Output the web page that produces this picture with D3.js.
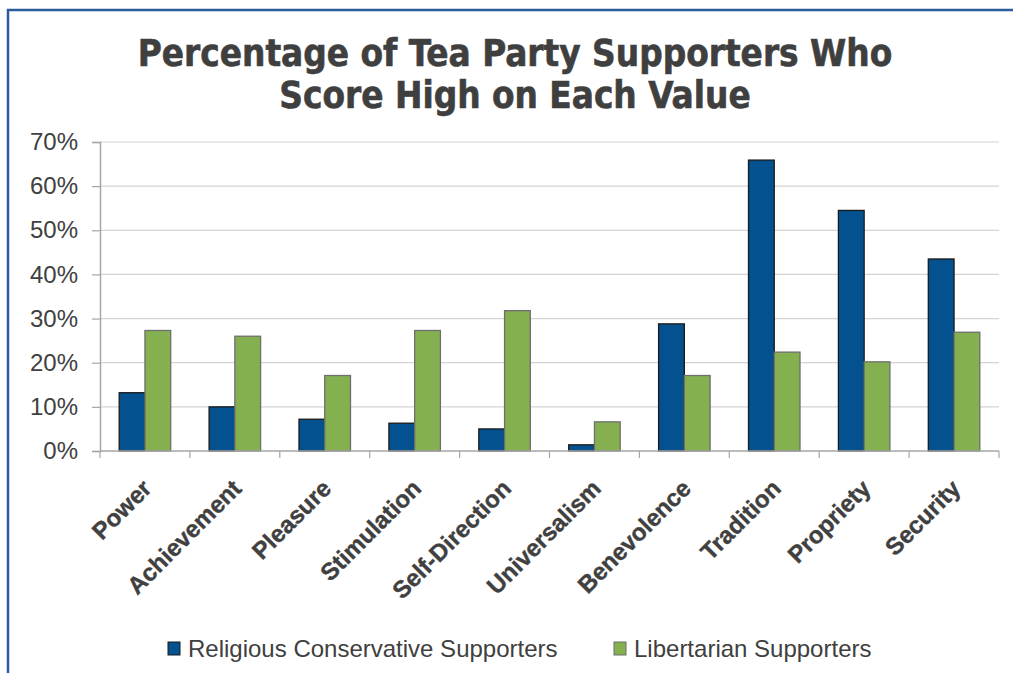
<!DOCTYPE html>
<html>
<head>
<meta charset="utf-8">
<script src="https://cdn.jsdelivr.net/npm/d3@7"></script>
<style>
  body { margin: 0; background: #fff; }
  svg { display: block; }
</style>
</head>
<body>
<svg id="chart" width="1013" height="673"></svg>
<script>
var categories = ["Power", "Achievement", "Pleasure", "Stimulation", "Self-Direction",
                  "Universalism", "Benevolence", "Tradition", "Propriety", "Security"];
var seriesNames = ["Religious Conservative Supporters", "Libertarian Supporters"];
var religious = [13.2, 10.0, 7.2, 6.3, 5.0, 1.4, 28.8, 65.9, 54.5, 43.5];
var libertarian = [27.3, 26.0, 17.1, 27.3, 31.8, 6.6, 17.1, 22.4, 20.2, 26.9];
var yTicks = [0, 10, 20, 30, 40, 50, 60, 70];
var titleLines = ["Percentage of Tea Party Supporters Who", "Score High on Each Value"];

var colors = ["#03528f", "#84b04f"];
var strokes = ["#1a1a1a", "#6e6e6e"];

var svg = d3.select("#chart");

// frame
svg.append("rect")
	.attr("x", 8).attr("y", 10)
	.attr("width", 1030).attr("height", 700)
	.attr("fill", "none")
	.attr("stroke", "#2b5c9e")
	.attr("stroke-width", 2.5);

// title
svg.append("g").selectAll("text")
	.data(titleLines)
	.enter()
	.append("text")
	.attr("x", 515)
	.attr("y", function(d, i){ return 66 + i * 42; })
	.attr("text-anchor", "middle")
	.style("font-family", "'DejaVu Sans Condensed', 'DejaVu Sans', sans-serif")
	.style("font-weight", "bold")
	.style("font-size", "36.5px")
	.style("fill", "#3f3f3f")
	.style("stroke", "#3f3f3f")
	.style("stroke-width", 0.6)
	.text(function(d){ return d; });

var x0 = d3.scaleBand().domain(categories).range([100, 999]).paddingInner(0).paddingOuter(0);
var x1 = d3.scaleBand().domain([0, 1]).range([19.2, x0.bandwidth() - 19.2]);
var y = d3.scaleLinear().domain([0, 70]).range([451, 142]);

// grid
svg.append("g").selectAll("line")
	.data(yTicks.slice(1))
	.enter()
	.append("line")
	.attr("x1", 100).attr("x2", 999)
	.attr("y1", function(d){ return y(d); })
	.attr("y2", function(d){ return y(d); })
	.attr("stroke", "#d4d4d4")
	.attr("stroke-width", 1.2);

// y axis
var yAxis = svg.append("g")
	.attr("transform", "translate(100,0)")
	.call(d3.axisLeft(y).tickValues(yTicks).tickSize(8).tickPadding(14)
		.tickFormat(function(d){ return d + "%"; }));
yAxis.select(".domain").attr("stroke", "#a6a6a6").attr("stroke-width", 1.5);
yAxis.selectAll(".tick line").attr("stroke", "#a6a6a6").attr("stroke-width", 1.2);
yAxis.selectAll(".tick text")
	.style("font-family", "'Liberation Sans', Arial, sans-serif")
	.style("font-size", "24px")
	.style("fill", "#404040");

// bars
var data = categories.map(function(c, i){ return {cat: c, vals: [religious[i], libertarian[i]]}; });

var groups = svg.append("g").selectAll("g.group")
	.data(data)
	.enter()
	.append("g")
	.attr("class", "group")
	.attr("transform", function(d){ return "translate(" + x0(d.cat) + ",0)"; });

groups.selectAll("rect")
	.data(function(d){ return d.vals.map(function(v, k){ return {k: k, v: v}; }); })
	.enter()
	.append("rect")
	.attr("x", function(d){ return x1(d.k); })
	.attr("width", x1.bandwidth())
	.attr("y", function(d){ return y(d.v); })
	.attr("height", function(d){ return y(0) - y(d.v); })
	.attr("fill", function(d){ return colors[d.k]; })
	.attr("stroke", function(d){ return strokes[d.k]; })
	.attr("stroke-width", 1.3);

// x axis
var boundaries = categories.map(function(c){ return x0(c); }).concat([999]);
svg.append("line")
	.attr("x1", 100).attr("x2", 999)
	.attr("y1", y(0)).attr("y2", y(0))
	.attr("stroke", "#a6a6a6").attr("stroke-width", 1.5);
svg.append("g").selectAll("line")
	.data(boundaries)
	.enter()
	.append("line")
	.attr("x1", function(d){ return d; }).attr("x2", function(d){ return d; })
	.attr("y1", y(0)).attr("y2", y(0) + 7)
	.attr("stroke", "#a6a6a6").attr("stroke-width", 1.2);

svg.append("g").selectAll("text")
	.data(categories)
	.enter()
	.append("text")
	.attr("transform", function(d){
		return "translate(" + (x0(d) + x0.bandwidth() / 2 + 8) + "," + 490 + ") rotate(-45)";
	})
	.attr("text-anchor", "end")
	.style("font-family", "'Liberation Sans', Arial, sans-serif")
	.style("font-weight", "bold")
	.style("font-size", "24px")
	.style("fill", "#404040")
	.style("stroke", "#404040")
	.style("stroke-width", 0.4)
	.text(function(d){ return d; });

// legend
var legendX = [168, 614];
var legend = svg.append("g").selectAll("g")
	.data(seriesNames)
	.enter()
	.append("g")
	.attr("transform", function(d, i){ return "translate(" + legendX[i] + ",642)"; });
legend.append("rect")
	.attr("width", 12).attr("height", 13)
	.attr("fill", function(d, i){ return colors[i]; })
	.attr("stroke", function(d, i){ return strokes[i]; })
	.attr("stroke-width", 1);
legend.append("text")
	.attr("x", 20).attr("y", 15)
	.style("font-family", "'Liberation Sans', Arial, sans-serif")
	.style("font-size", "24px")
	.style("fill", "#404040")
	.text(function(d){ return d; });
</script>
</body>
</html>
